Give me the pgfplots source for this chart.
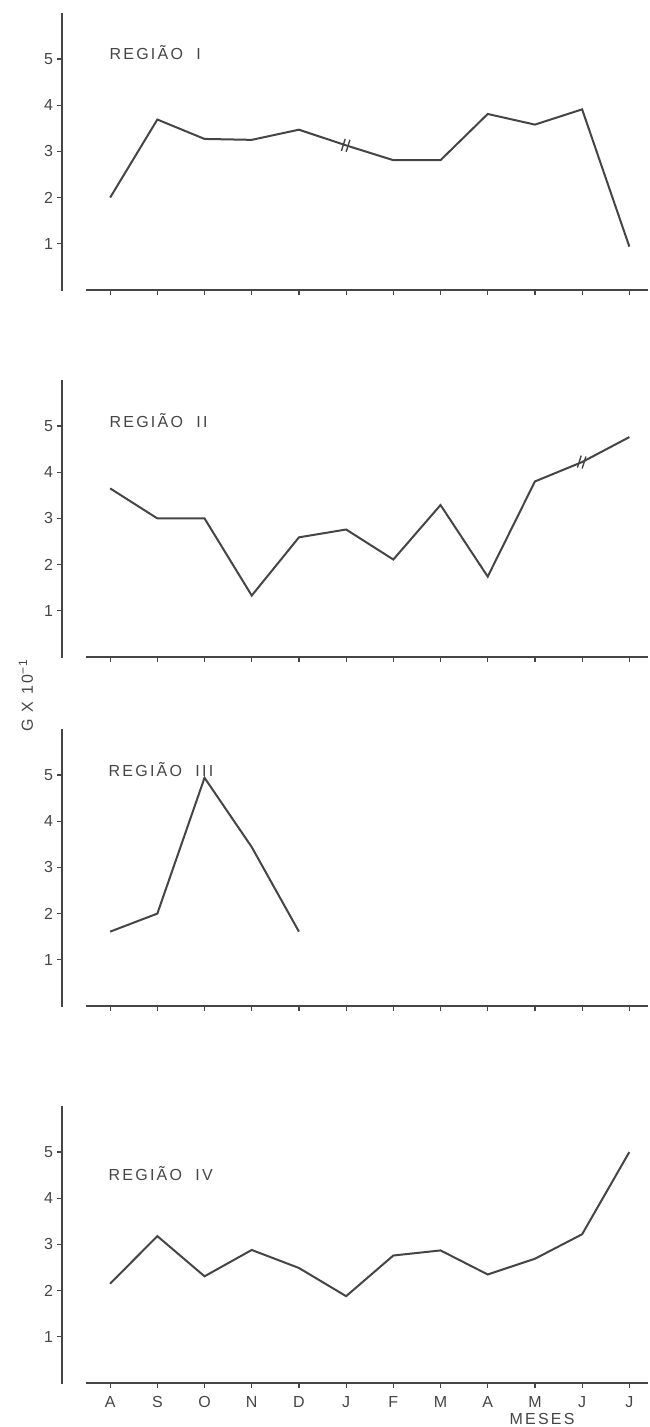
\documentclass[border=0pt]{standalone}
\usepackage{fontspec}
\setmainfont{Liberation Sans}
\newfontfamily\spaced[LetterSpace=14]{Liberation Sans}
\usepackage{pgfplots}
\pgfplotsset{compat=1.18}
\definecolor{ink}{HTML}{454545}
\pgfplotsset{
  panel/.style={
    scale only axis, clip=false,
    width=293.1pt, height=138.6pt,
    xmin=-1.02, xmax=11.4, ymin=0, ymax=6,
    axis lines=left, axis line style={draw=none},
    xtick={0,...,11}, ytick={1,2,3,4,5},
    xticklabels={},
    tick align=outside, major tick length=2.5pt,
    tick style={line width=0.6pt, color=ink},
    every tick label/.append style={font=\fontsize{8}{9}\selectfont, text=ink},
    /pgf/number format/assume math mode=true,
    yticklabel style={xshift=1.5pt},
  },
  data/.style={line width=1pt, color=ink, mark=none},
}
\newcommand{\axlines}{%
  \draw[line width=0.9pt, ink] (axis cs:-1.02,-0.02) -- (axis cs:-1.02,6);
  \draw[line width=0.9pt, ink] (axis cs:-0.51,0) -- (axis cs:11.4,0);
}
\newcommand{\brk}[2]{%
  \draw[line width=0.7pt, ink] (axis cs:#1-0.1,#2-0.12) -- (axis cs:#1-0.02,#2+0.14);
  \draw[line width=0.7pt, ink] (axis cs:#1+0.0,#2-0.14) -- (axis cs:#1+0.08,#2+0.12);
}
\begin{document}
\begin{tikzpicture}
\useasboundingbox (0,0) rectangle (324.5pt,-713.5pt);
% Panel I
\begin{axis}[panel, at={(31pt,-145pt)}, anchor=south west]
\axlines
\addplot[data] coordinates {(0,2.0) (1,3.69) (2,3.27) (3,3.25) (4,3.47) (5,3.13) (6,2.81) (7,2.81) (8,3.81) (9,3.58) (10,3.91) (11,0.94)};
\brk{5}{3.13}
\node[anchor=west, inner sep=0pt, font=\spaced\fontsize{8}{9}\selectfont, text=ink] at (axis cs:-0.02,5.13) {REGIÃO\ \ I};
\end{axis}
% Panel II
\begin{axis}[panel, at={(31pt,-328.5pt)}, anchor=south west]
\axlines
\addplot[data] coordinates {(0,3.65) (1,3.0) (2,3.0) (3,1.33) (4,2.59) (5,2.76) (6,2.11) (7,3.29) (8,1.74) (9,3.80) (10,4.22) (11,4.76)};
\brk{10}{4.22}
\node[anchor=west, inner sep=0pt, font=\spaced\fontsize{8}{9}\selectfont, text=ink] at (axis cs:-0.02,5.11) {REGIÃO\ \ II};
\end{axis}
% Panel III
\begin{axis}[panel, at={(31pt,-503pt)}, anchor=south west]
\axlines
\addplot[data] coordinates {(0,1.61) (1,2.0) (2,4.94) (3,3.44) (4,1.61)};
\node[anchor=west, inner sep=0pt, font=\spaced\fontsize{8}{9}\selectfont, text=ink] at (axis cs:-0.04,5.12) {REGIÃO\ \ III};
\end{axis}
% Panel IV
\begin{axis}[panel, at={(31pt,-691.5pt)}, anchor=south west,
  xticklabels={A,S,O,N,D,J,F,M,A,M,J,J},
  xticklabel style={yshift=-0.5pt}]
\axlines
\addplot[data] coordinates {(0,2.15) (1,3.18) (2,2.31) (3,2.88) (4,2.49) (5,1.88) (6,2.76) (7,2.87) (8,2.35) (9,2.69) (10,3.22) (11,5.0)};
\node[anchor=west, inner sep=0pt, font=\spaced\fontsize{8}{9}\selectfont, text=ink] at (axis cs:-0.04,4.54) {REGIÃO\ \ IV};
\node[anchor=base, inner sep=0pt, font=\spaced\fontsize{8}{9}\selectfont, text=ink] at (axis cs:9.15,-0.9) {MESES};
\end{axis}
\node[rotate=90, font=\spaced\fontsize{8}{9}\selectfont, text=ink] at (13pt,-347.5pt) {G\ X\ 10\textsuperscript{−1}};
\end{tikzpicture}
\end{document}
